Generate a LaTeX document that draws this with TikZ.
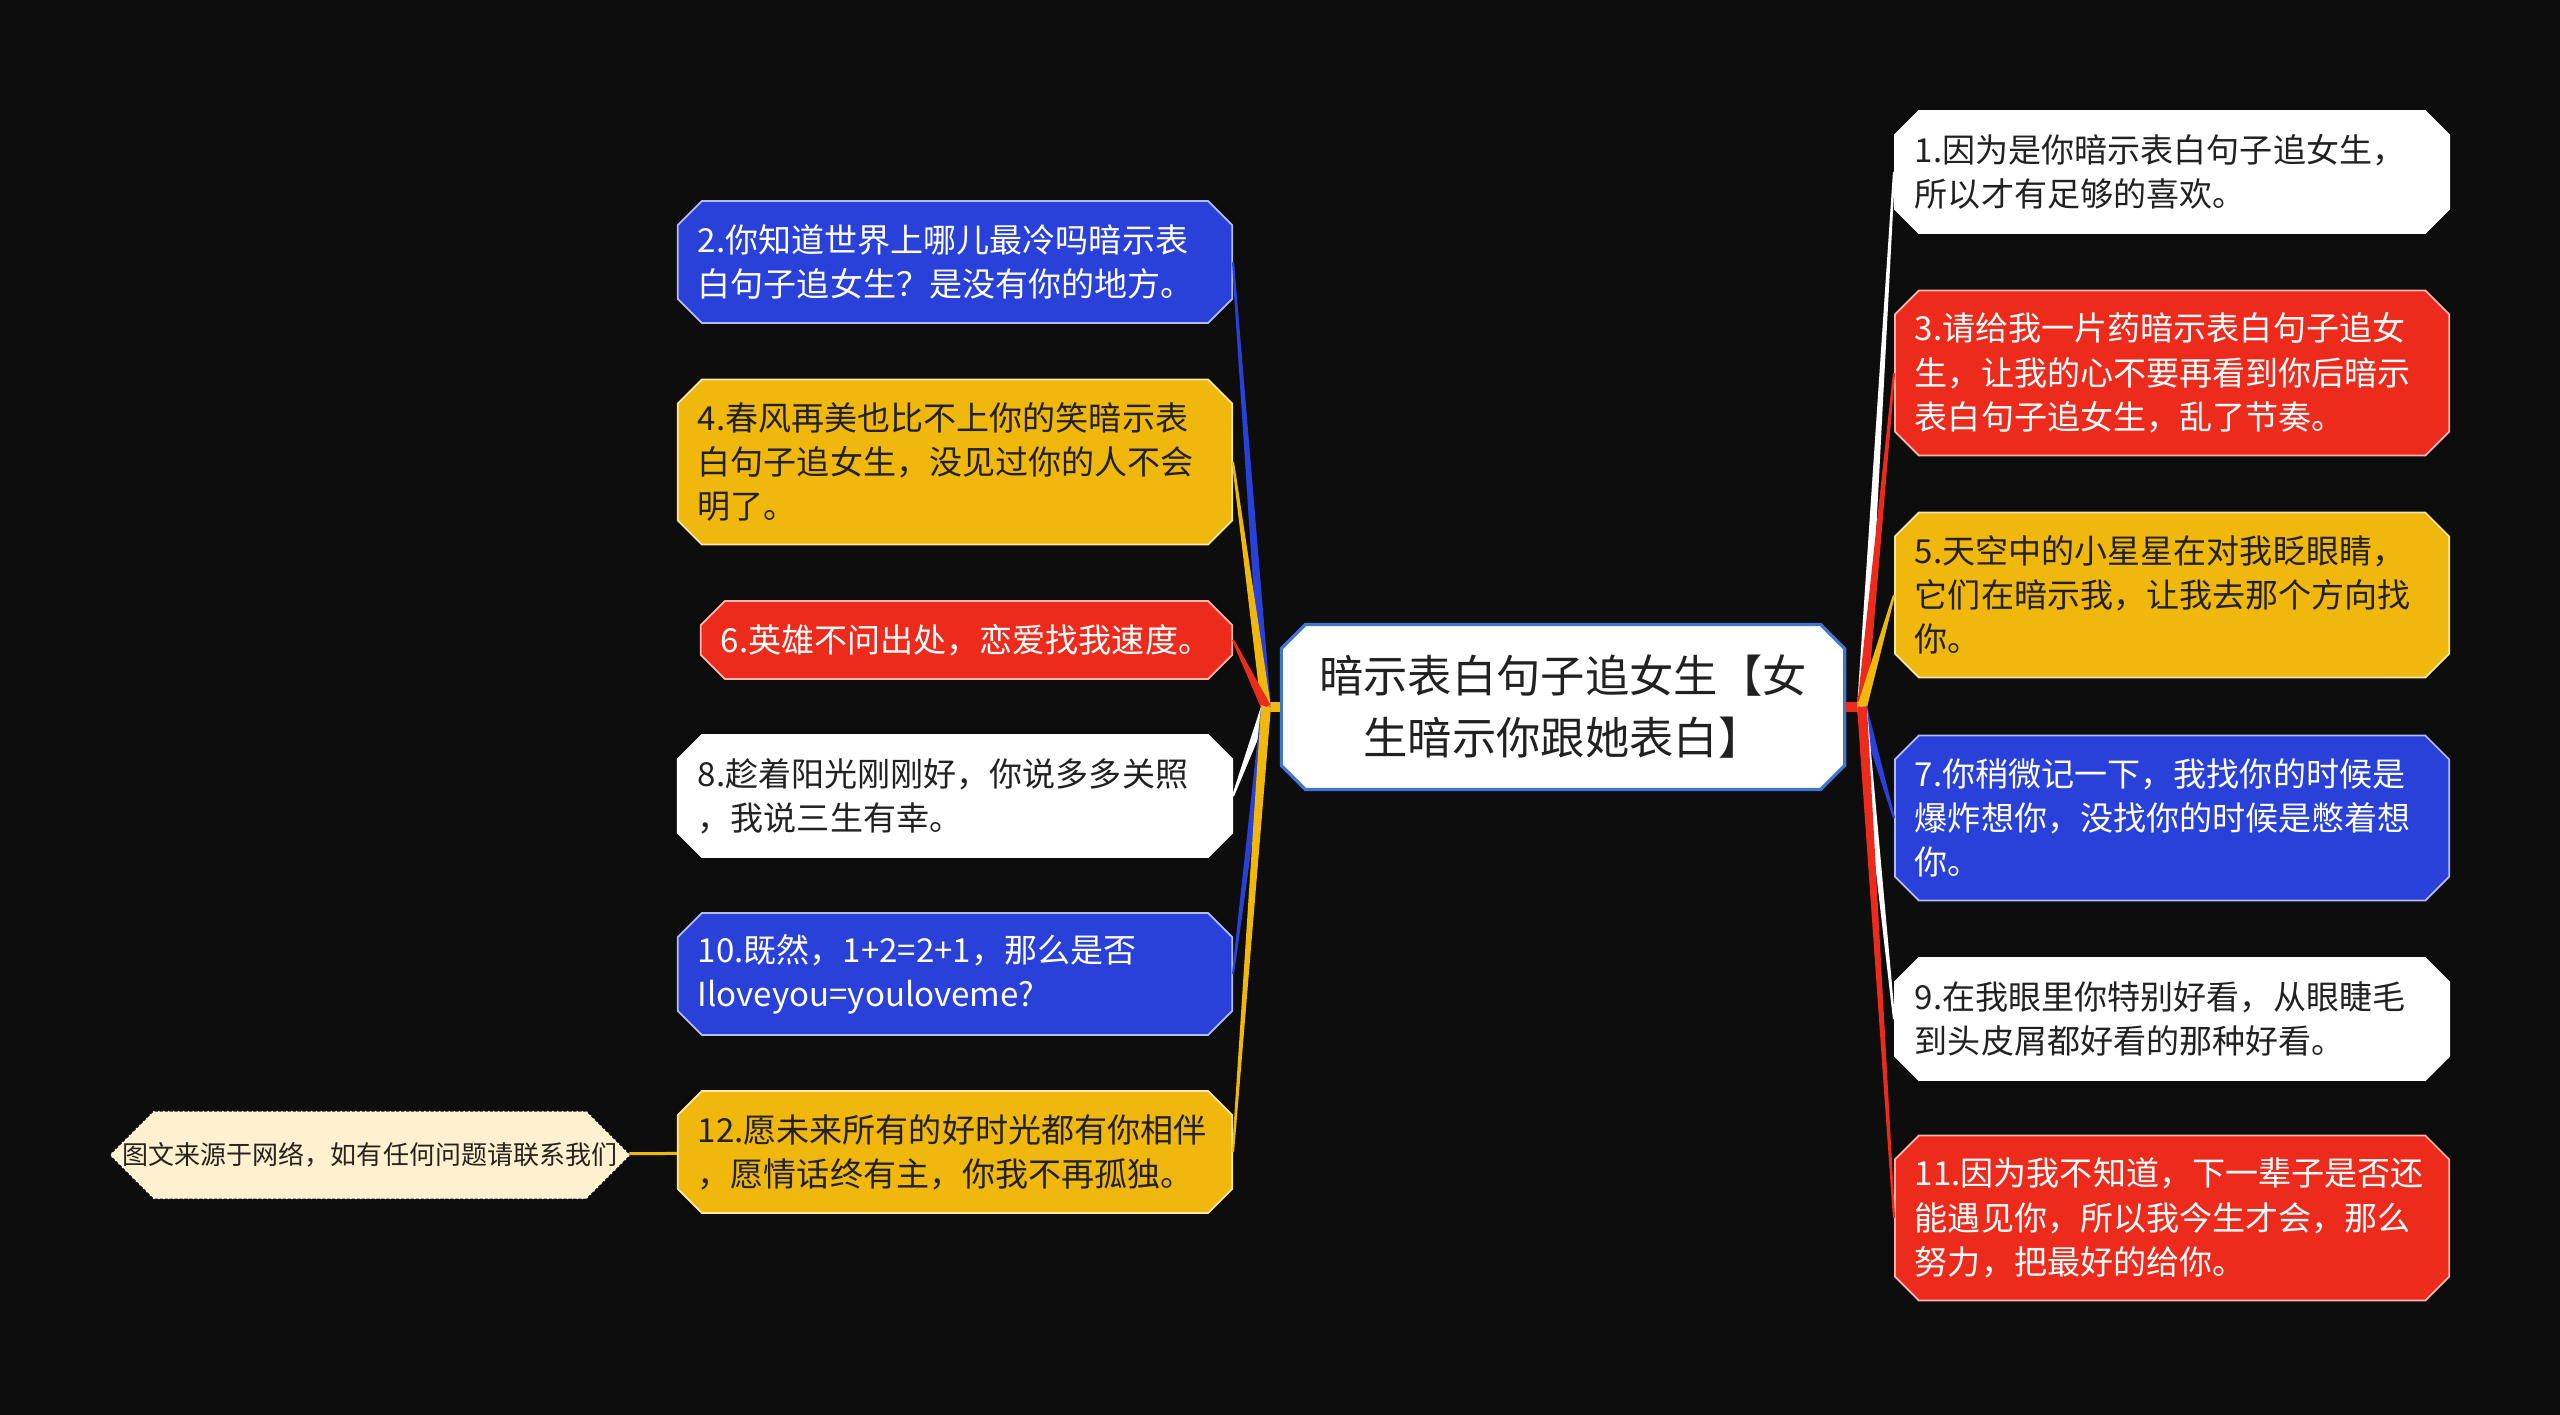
\documentclass[tikz,border=0pt]{standalone}
\usepackage{fontspec}
\setmainfont{Noto Sans CJK SC}
\usepackage{tikz}
\usetikzlibrary{shapes.misc,calc}
\definecolor{cbg}{rgb}{0.05,0.05,0.05}
\definecolor{cblue}{rgb}{0.16,0.25,0.85}
\definecolor{cyellow}{rgb}{0.94,0.72,0.05}
\definecolor{cred}{rgb}{0.93,0.17,0.11}
\definecolor{ctag}{rgb}{1,0.94,0.81}
\definecolor{cframe}{rgb}{0.25,0.46,0.82}
\definecolor{ctext}{rgb}{0.13,0.13,0.13}

\begin{document}
\begin{tikzpicture}[x=0.01cm,y=-0.01cm,
  leaf node/.style={chamfered rectangle,chamfered rectangle xsep=0.12cm,
    chamfered rectangle ysep=0.12cm,fill=#1,draw=#1!35!white,line width=0.5pt,
    inner xsep=0.08cm,inner ysep=0pt,text width=5.14cm,align=left,
    minimum height=1.22cm,font=\fontsize{9.4}{12.6}\selectfont},
  blue node/.style={leaf node=cblue,text=white},
  red node/.style={leaf node=cred,text=white},
  yellow node/.style={leaf node=cyellow,text=ctext},
  white node/.style={leaf node=white,text=ctext},
  main node/.style={chamfered rectangle,chamfered rectangle xsep=0.12cm,
    chamfered rectangle ysep=0.12cm,fill=white,draw=cframe,line width=0.9pt,
    minimum width=5.63cm,minimum height=1.65cm,align=center,text=ctext,
    font=\fontsize{12.6}{17.6}\selectfont},
  tag node/.style={chamfered rectangle,chamfered rectangle xsep=0.12cm,
    chamfered rectangle ysep=0.31cm,fill=ctag,draw=white!70!ctag,densely dotted,
    line width=0.4pt,minimum height=0.62cm,inner xsep=0pt,inner ysep=0pt,
    text=black!85!ctag,font=\fontsize{7.4}{9}\selectfont},
  branch/.style={draw=none,fill=#1,to path={
    ($(\tikztostart)!1.4pt!90:(\tikztotarget)$) --
    ($(\tikztotarget)!0.3pt!-90:(\tikztostart)$) --
    ($(\tikztotarget)!0.3pt!90:(\tikztostart)$) --
    ($(\tikztostart)!1.4pt!-90:(\tikztotarget)$) -- cycle}},
  stub/.style={draw=#1,line width=0.1cm}]
  \fill[cbg] (0,0) rectangle (2560,1415);

  \node[main node] (0) at (1563,707) {暗示表白句子追女生【女\\生暗示你跟她表白】};
  \coordinate (jl) at (1266,707);
  \coordinate (jr) at (1862,707);

  % left side
  \node[blue node,anchor=east] (2) at (1233,262) {2.你知道世界上哪儿最冷吗暗示表\\白句子追女生？是没有你的地方。};
  \node[yellow node,anchor=east,minimum height=1.65cm] (4) at (1233,462) {4.春风再美也比不上你的笑暗示表\\白句子追女生，没见过你的人不会\\明了。};
  \node[red node,anchor=east,minimum height=0.78cm,text width=4.91cm] (6) at (1233,640) {6.英雄不问出处，恋爱找我速度。};
  \node[white node,anchor=east] (8) at (1233,796) {8.趁着阳光刚刚好，你说多多关照\\，我说三生有幸。};
  \node[blue node,anchor=east] (10) at (1233,974) {10.既然，1+2=2+1，那么是否\\Iloveyou=youloveme?};
  \node[yellow node,anchor=east] (12) at (1233,1152) {12.愿未来所有的好时光都有你相伴\\，愿情话终有主，你我不再孤独。};
  \node[tag node] (13) at (370,1155) {图文来源于网络，如有任何问题请联系我们};

  % right side
  \node[white node,anchor=west] (1) at (1894,172) {1.因为是你暗示表白句子追女生，\\所以才有足够的喜欢。};
  \node[red node,anchor=west,minimum height=1.65cm] (3) at (1894,373) {3.请给我一片药暗示表白句子追女\\生，让我的心不要再看到你后暗示\\表白句子追女生，乱了节奏。};
  \node[yellow node,anchor=west,minimum height=1.65cm] (5) at (1894,595) {5.天空中的小星星在对我眨眼睛，\\它们在暗示我，让我去那个方向找\\你。};
  \node[blue node,anchor=west,minimum height=1.65cm] (7) at (1894,818) {7.你稍微记一下，我找你的时候是\\爆炸想你，没找你的时候是憋着想\\你。};
  \node[white node,anchor=west] (9) at (1894,1019) {9.在我眼里你特别好看，从眼睫毛\\到头皮屑都好看的那种好看。};
  \node[red node,anchor=west,minimum height=1.65cm] (11) at (1894,1218) {11.因为我不知道，下一辈子是否还\\能遇见你，所以我今生才会，那么\\努力，把最好的给你。};

  \path (0.west) edge[stub=cyellow] (jl)
        (0.east) edge[stub=cred] (jr);
  \path (jl) edge[branch=cblue] (2.east)
        (jl) edge[branch=cyellow] (4.east)
        (jl) edge[branch=cred] (6.east)
        (jl) edge[branch=white] (8.east)
        (jl) edge[branch=cblue] (10.east)
        (jl) edge[branch=cyellow] (12.east)
        (jr) edge[branch=white] (1.west)
        (jr) edge[branch=cred] (3.west)
        (jr) edge[branch=cyellow] (5.west)
        (jr) edge[branch=cblue] (7.west)
        (jr) edge[branch=white] (9.west)
        (jr) edge[branch=cred] (11.west);
  \path (13) edge[draw=cyellow,line width=0.03cm] (12);
\end{tikzpicture}
\end{document}
